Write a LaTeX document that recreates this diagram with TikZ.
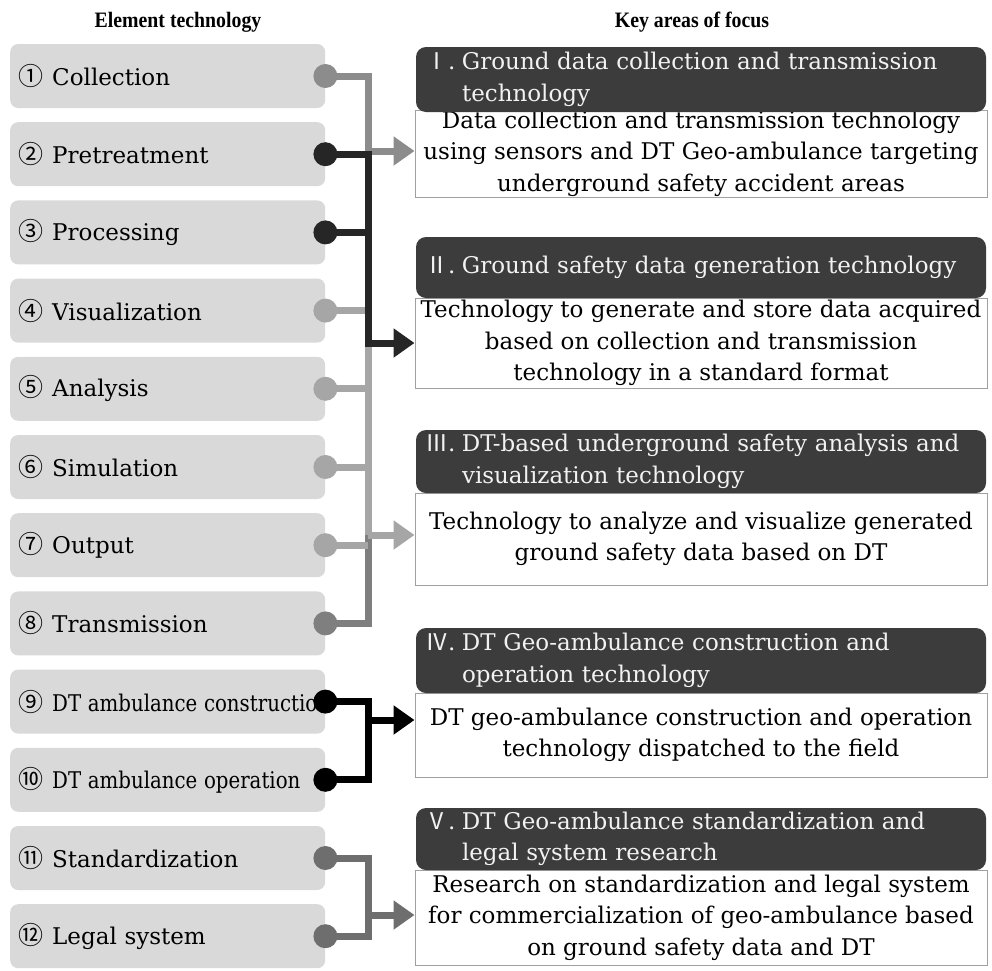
\documentclass[tikz,border=0pt]{standalone}
\usepackage{fontspec}
\setmainfont{DejaVu Serif}
\newfontfamily\circfont{Noto Sans CJK SC}
\newfontfamily\titlefont{Liberation Serif}
\usetikzlibrary{arrows.meta}
\definecolor{boxgray}{HTML}{D9D9D9}
\definecolor{hdr}{HTML}{3C3C3C}
\definecolor{hdrtext}{HTML}{F2F2F2}
\definecolor{cA}{HTML}{8C8C8C}
\definecolor{cB}{HTML}{262626}
\definecolor{cC}{HTML}{A6A6A6}
\definecolor{cD}{HTML}{7F7F7F}
\definecolor{cE}{HTML}{000000}
\definecolor{cF}{HTML}{6E6E6E}
\definecolor{bord}{HTML}{A0A0A0}
\newcommand\ltext[2]{\mbox{\makebox[34pt][l]{\circfont\fontsize{25}{25}\selectfont #1}#2}}
\newcommand\hnum[1]{\makebox[37pt][l]{{\circfont #1}.}}
\begin{document}
\begin{tikzpicture}[x=1pt,y=-1pt,
  leftbox/.style={rectangle, rounded corners=8pt, fill=boxgray, minimum width=315pt,
    minimum height=64pt, anchor=west, inner xsep=8pt, text width=299pt, align=left,
    font=\fontsize{23}{26}\selectfont},
  joint/.style={circle, inner sep=0pt, minimum size=24pt, fill=#1},
  link/.style={line width=7pt, draw=#1},
  arr/.style={line width=7pt, draw=#1, -{Triangle[length=21pt,width=28pt]}},
  bodybox/.style={rectangle, draw=bord, line width=1pt, fill=white, minimum width=572pt,
    align=center, inner sep=0pt, font=\fontsize{23}{31.5}\selectfont},
  hdrbox/.style={rectangle, rounded corners=10pt, fill=hdr, text=hdrtext, minimum width=570pt,
    inner xsep=9pt, text width=552pt, align=left, font=\fontsize{23}{31.5}\selectfont},
  ttl/.style={anchor=base, font=\titlefont\bfseries\fontsize{22}{22}\selectfont}
]
\useasboundingbox (0,0) rectangle (992,970);
\fill[white] (0,0) rectangle (992,970);

% titles
\node[ttl] (t1) at (178,27) {\scalebox{0.9}[1]{Element technology}};
\node[ttl] (t2) at (692,27) {\scalebox{0.9}[1]{Key areas of focus}};

% left boxes
\node[leftbox] (l1) at (10,76.0) {\ltext{①}{Collection}};
\node[leftbox] (l2) at (10,154.2) {\ltext{②}{Pretreatment}};
\node[leftbox] (l3) at (10,232.4) {\ltext{③}{Processing}};
\node[leftbox] (l4) at (10,310.6) {\ltext{④}{Visualization}};
\node[leftbox] (l5) at (10,388.8) {\ltext{⑤}{Analysis}};
\node[leftbox] (l6) at (10,467.0) {\ltext{⑥}{Simulation}};
\node[leftbox] (l7) at (10,545.2) {\ltext{⑦}{Output}};
\node[leftbox] (l8) at (10,623.4) {\ltext{⑧}{Transmission}};
\node[leftbox] (l9) at (10,701.6) {\ltext{⑨}{\scalebox{0.86}[1]{DT ambulance construction}}};
\node[leftbox] (l10) at (10,779.8) {\ltext{⑩}{\scalebox{0.86}[1]{DT ambulance operation}}};
\node[leftbox] (l11) at (10,858.0) {\ltext{⑪}{Standardization}};
\node[leftbox] (l12) at (10,936.2) {\ltext{⑫}{Legal system}};

% right boxes: bodies
\node[bodybox, minimum height=87pt] (b1) at (701,153.5) {Data collection and transmission technology\\using sensors and DT Geo-ambulance targeting\\underground safety accident areas};
\node[bodybox, minimum height=90pt] (b2) at (701,343) {Technology to generate and store data acquired\\based on collection and transmission\\technology in a standard format};
\node[bodybox, minimum height=92pt] (b3) at (701,539) {Technology to analyze and visualize generated\\ground safety data based on DT};
\node[bodybox, minimum height=84pt] (b4) at (701,735) {DT geo-ambulance construction and operation\\technology dispatched to the field};
\node[bodybox, minimum height=95pt] (b5) at (701,917.5) {Research on standardization and legal system\\for commercialization of geo-ambulance based\\on ground safety data and DT};

% right boxes: headers
\node[hdrbox, minimum height=65pt] (h1) at (701,79.5) {\hnum{Ⅰ}Ground data collection and transmission\\\hspace*{37pt}technology};
\node[hdrbox, minimum height=61pt] (h2) at (701,267.5) {\hnum{Ⅱ}Ground safety data generation technology};
\node[hdrbox, minimum height=63pt] (h3) at (701,461.5) {\hnum{Ⅲ}DT-based underground safety analysis and\\\hspace*{37pt}visualization technology};
\node[hdrbox, minimum height=65pt] (h4) at (701,660.5) {\hnum{Ⅳ}DT Geo-ambulance construction and\\\hspace*{37pt}operation technology};
\node[hdrbox, minimum height=62pt] (h5) at (701,839) {\hnum{Ⅴ}DT Geo-ambulance standardization and\\\hspace*{37pt}legal system research};

% junction coordinates
\coordinate (trunk) at (368,0);
\coordinate (a1) at (368,151);
\coordinate (a2) at (368,343);
\coordinate (a3) at (368,535);
\coordinate (a4) at (368,720);
\coordinate (a5) at (368,915);

% connectors, group 1-8
\draw[link=cA] (l1.east) -- (l1.east -| trunk) -- (l2.east -| trunk);
\draw[link=cC] (l2.east -| trunk) -- (a3);
\draw[link=cD] (a3) -- (l8.east -| trunk) -- (l8.east);
\foreach \i in {4,5,6,7} \draw[link=cC] (l\i.east) -- (l\i.east -| trunk);
\draw[arr=cA] (a1) -- (a1 -| b1.west);
\draw[arr=cC] (a3) -- (a3 -| b3.west);
\draw[link=cB] (l3.east) -- (l3.east -| trunk);
\draw[arr=cB] (l2.east) -- (l2.east -| trunk) -- (a2) -- (a2 -| b2.west);

% connectors 9-10 and 11-12
\draw[link=cE] (l9.east) -- (l9.east -| trunk) -- (l10.east -| trunk) -- (l10.east);
\draw[arr=cE] (a4) -- (a4 -| b4.west);
\draw[link=cF] (l11.east) -- (l11.east -| trunk) -- (l12.east -| trunk) -- (l12.east);
\draw[arr=cF] (a5) -- (a5 -| b5.west);

% joints
\node[joint=cA] (d1) at (l1.east) {};
\node[joint=cB] (d2) at (l2.east) {};
\node[joint=cB] (d3) at (l3.east) {};
\node[joint=cC] (d4) at (l4.east) {};
\node[joint=cC] (d5) at (l5.east) {};
\node[joint=cC] (d6) at (l6.east) {};
\node[joint=cC] (d7) at (l7.east) {};
\node[joint=cD] (d8) at (l8.east) {};
\node[joint=cE] (d9) at (l9.east) {};
\node[joint=cE] (d10) at (l10.east) {};
\node[joint=cF] (d11) at (l11.east) {};
\node[joint=cF] (d12) at (l12.east) {};
\end{tikzpicture}
\end{document}
